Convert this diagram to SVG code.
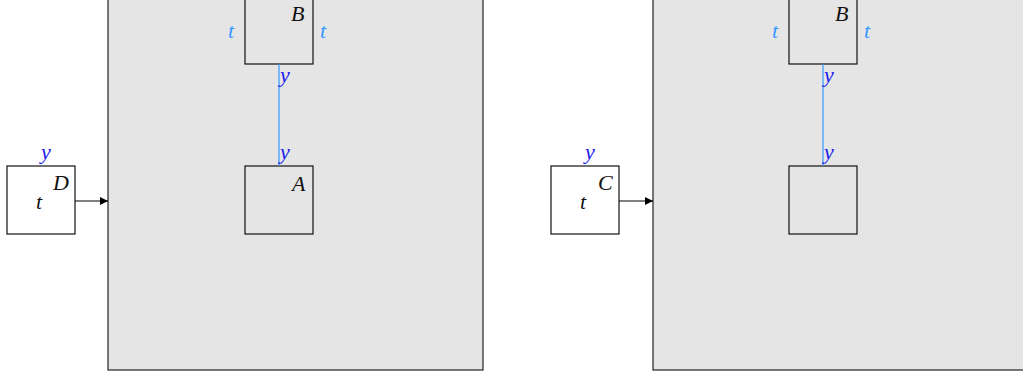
<svg xmlns="http://www.w3.org/2000/svg" width="1023" height="377" viewBox="0 0 1023 377">
<style>
.cont{fill:#e5e5e5;stroke:#222;stroke-width:1.2}
.box{fill:none;stroke:#111;stroke-width:1.2}
.wbox{fill:#fff;stroke:#111;stroke-width:1.2}
text{font-family:"Liberation Serif","DejaVu Serif",serif;font-style:italic;font-size:22px}
.k{fill:#111}
.lb{fill:#3399ff}
.db{fill:#2020ee}
.wire{stroke:#3399ff;stroke-width:1.2;fill:none}
.arr{stroke:#000;stroke-width:1.2;fill:none;marker-end:url(#ah)}
</style>
<defs>
<marker id="ah" viewBox="0 0 10 10" refX="10" refY="5" markerWidth="10" markerHeight="8" markerUnits="userSpaceOnUse" orient="auto">
<path d="M0,0 L10,5 L0,10 z" fill="#000"/>
</marker>
</defs>
<g id="left">
<g id="container1"><rect class="cont" x="108" y="-10" width="375" height="380"/></g>
<g id="nodeB1"><rect class="box" x="245" y="-4" width="68" height="68"/><text class="k" x="291" y="21">B</text><text class="lb" x="228" y="38">t</text><text class="lb" x="320" y="38">t</text></g>
<g id="nodeA"><rect class="box" x="245" y="166" width="68" height="68"/><text class="k" x="292" y="191">A</text></g>
<g id="nodeD"><rect class="wbox" x="7" y="166" width="68" height="68"/><text class="k" x="53" y="190">D</text><text class="k" x="36" y="209">t</text><text class="db" x="41" y="159">y</text></g>
</g>
<g id="right">
<g id="container2"><rect class="cont" x="653" y="-10" width="380" height="380"/></g>
<g id="nodeB2"><rect class="box" x="789" y="-4" width="68" height="68"/><text class="k" x="835" y="21">B</text><text class="lb" x="772" y="38">t</text><text class="lb" x="864" y="38">t</text></g>
<g id="nodeE"><rect class="box" x="789" y="166" width="68" height="68"/></g>
<g id="nodeC"><rect class="wbox" x="551" y="166" width="68" height="68"/><text class="k" x="598" y="190">C</text><text class="k" x="580" y="209">t</text><text class="db" x="585" y="159">y</text></g>
</g>
<g id="connectors">
<line class="wire" x1="279" y1="64" x2="279" y2="166"/>
<text class="db" x="280" y="82">y</text>
<text class="db" x="280" y="159">y</text>
<line class="wire" x1="823" y1="64" x2="823" y2="166"/>
<text class="db" x="824" y="82">y</text>
<text class="db" x="824" y="159">y</text>
<line class="arr" x1="75" y1="201" x2="108" y2="201"/>
<line class="arr" x1="619" y1="201" x2="653" y2="201"/>
</g>
</svg>
